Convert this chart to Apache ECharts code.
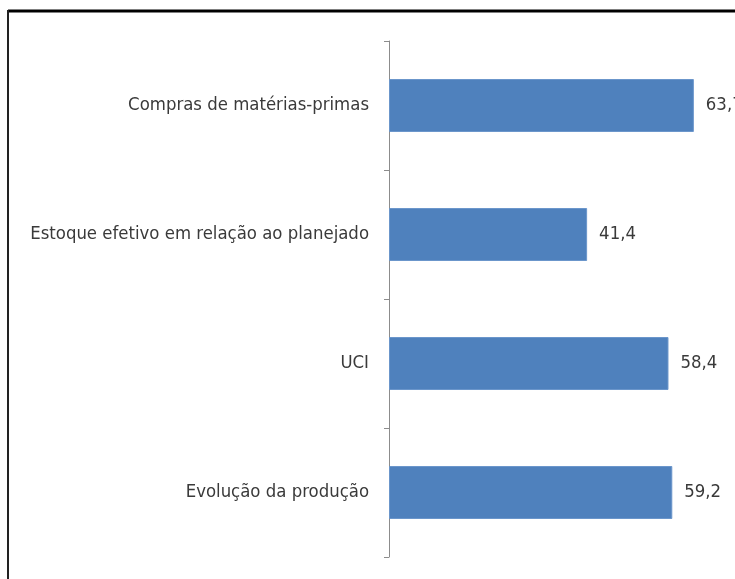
<!DOCTYPE html>
<html>
<head>
<meta charset="utf-8">
<script src="https://cdn.jsdelivr.net/npm/echarts@6/dist/echarts.min.js"></script>
<style>
  html, body { margin: 0; padding: 0; background: #fff; }
  #chart { width: 735px; height: 579px; }
</style>
</head>
<body>
<div id="chart"></div>
<script>
    // categorias (de cima para baixo) e valores
    var categorias = ['Compras de matérias-primas', 'Estoque efetivo em relação ao planejado', 'UCI', 'Evolução da produção'];
    var valores = [63.7, 41.4, 58.4, 59.2];

    var fonte = '"Liberation Sans Narrow", "DejaVu Sans Condensed", sans-serif';
    var myChart = echarts.init(document.getElementById('chart'));
    myChart.setOption({
        animation: false,
        grid: {
            left: 389,
            right: 0,
            top: 41,
            bottom: 22
        },
        graphic: [
            // moldura
            { type: 'line', shape: { x1: 8, y1: 11, x2: 735, y2: 11 }, style: { stroke: '#000', lineWidth: 3 } },
            { type: 'line', shape: { x1: 8, y1: 10, x2: 8, y2: 579 }, style: { stroke: '#222', lineWidth: 2 } }
        ],
        xAxis: {
            type: 'value',
            min: 0,
            max: 72.3,
            show: false
        },
        yAxis: {
            type: 'category',
            inverse: true,
            data: categorias,
            axisLine: { show: true, lineStyle: { color: '#8c8c8c', width: 1 } },
            axisTick: { show: true, length: 5, lineStyle: { color: '#8c8c8c' } },
            axisLabel: {
                margin: 20,
                color: '#3a3a3a',
                fontSize: 18.4,
                fontFamily: fonte
            }
        },
        series: [{
            type: 'bar',
            barWidth: 53,
            data: valores,
            itemStyle: { color: '#4f81bd', borderColor: '#6b96cb', borderWidth: 1 },
            label: {
                show: true,
                position: 'right',
                distance: 12,
                color: '#3a3a3a',
                fontSize: 18.4,
                fontFamily: fonte,
                formatter: function (p) { return p.value.toFixed(1).replace('.', ','); }
            }
        }]
    });
</script>
</body>
</html>
